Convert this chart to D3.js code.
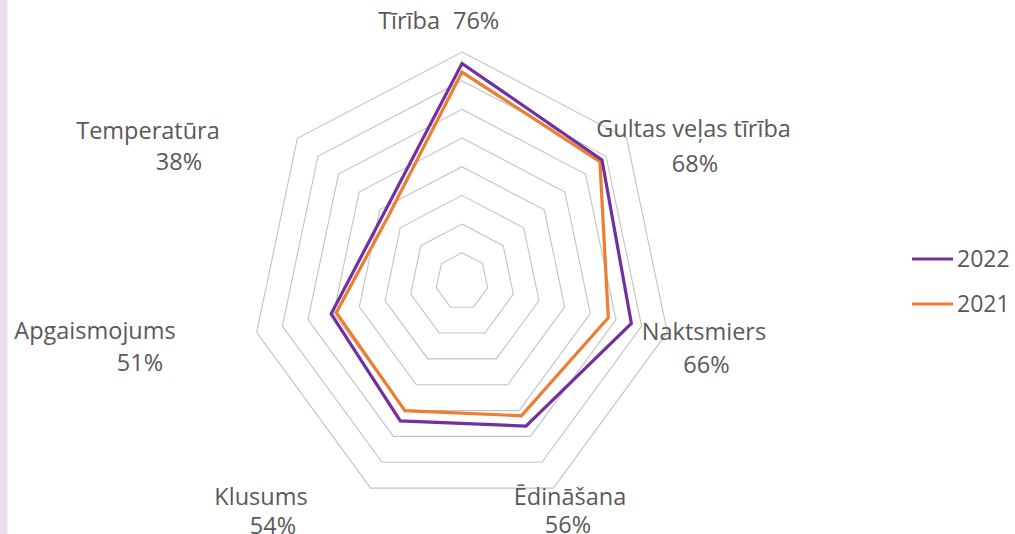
<!DOCTYPE html>
<html>
<head>
<meta charset="utf-8">
<script src="https://cdn.jsdelivr.net/npm/d3@7"></script>
<style>
  html, body { margin: 0; padding: 0; background: #ffffff; }
  svg { display: block; }
  text { font-family: "Open Sans", sans-serif; fill: #595959; }
</style>
</head>
<body>
<div id="chart"></div>
<script>
// Datos
const categories = ["Tīrība", "Gultas veļas tīrība", "Naktsmiers", "Ēdināšana", "Klusums", "Apgaismojums", "Temperatūra"];
const values2022 = [0.76, 0.68, 0.66, 0.56, 0.54, 0.51, 0.38];
const values2021 = [0.73, 0.67, 0.57, 0.52, 0.50, 0.49, 0.36];
const seriesNames = ["2022", "2021"];
const gridTicks = [0.1, 0.2, 0.3, 0.4, 0.5, 0.6, 0.7, 0.8];

// Configuración
const width = 1015, height = 534;
const cx = 462, cy = 281.4;
const colors = {"2022": "#7030a0", "2021": "#ed7d31"};

// el dibujo original está algo comprimido en horizontal
const rX = d3.scaleLinear().domain([0, 0.8]).range([0, 210.6]);
const rY = d3.scaleLinear().domain([0, 0.8]).range([0, 229.4]);
const angle = d3.scaleLinear().domain([0, categories.length]).range([0, 2 * Math.PI]);

function pt(i, v) {
  const a = angle(i);
  return [cx + Math.sin(a) * rX(v), cy - Math.cos(a) * rY(v)];
}

const svg = d3.select("#chart")
  .append("svg")
  .attr("width", width)
  .attr("height", height);

// franja lateral
svg.append("rect")
  .attr("x", 0).attr("y", 0)
  .attr("width", 7.5).attr("height", height)
  .attr("fill", "#ebdfef");

const line = d3.line().curve(d3.curveLinearClosed);

// rejilla
svg.append("g").selectAll("path")
  .data(gridTicks)
  .enter().append("path")
  .attr("d", t => line(categories.map((c, i) => pt(i, t))))
  .attr("fill", "none")
  .attr("stroke", "#c3c3c3")
  .attr("stroke-width", 1.1);

// series
const series = [
  {name: seriesNames[1], values: values2021},
  {name: seriesNames[0], values: values2022}
];
svg.append("g").selectAll("path")
  .data(series)
  .enter().append("path")
  .attr("d", s => line(s.values.map((v, i) => pt(i, v))))
  .attr("fill", "none")
  .attr("stroke", s => colors[s.name])
  .attr("stroke-width", 3.2)
  .attr("stroke-linejoin", "miter");

// etiquetas (nombre + valor 2022)
const fmt = d3.format(".0%");
const labelPos = [
  {nx: 440, ny: 29, nAnchor: "end", vx: 453, vy: 29, vAnchor: "start"},
  {nx: 693.5, ny: 137, vx: 695, vy: 172},
  {nx: 704, ny: 340, vx: 706.5, vy: 373},
  {nx: 570, ny: 505, vx: 568, vy: 533},
  {nx: 261, ny: 505, vx: 273, vy: 534},
  {nx: 95, ny: 339, vx: 140, vy: 371},
  {nx: 148, ny: 139, vx: 179, vy: 170}
];
const lab = svg.append("g").attr("font-size", "23.5px");
categories.forEach((c, i) => {
  const p = labelPos[i];
  lab.append("text")
    .attr("x", p.nx).attr("y", p.ny)
    .attr("text-anchor", p.nAnchor || "middle")
    .text(c);
  lab.append("text")
    .attr("x", p.vx).attr("y", p.vy)
    .attr("text-anchor", p.vAnchor || "middle")
    .text(fmt(values2022[i]));
});

// leyenda
const legend = svg.append("g").selectAll("g")
  .data(seriesNames)
  .enter().append("g")
  .attr("transform", (d, i) => `translate(912,${259 + i * 45})`);
legend.append("line")
  .attr("x1", 0).attr("x2", 41)
  .attr("stroke", d => colors[d])
  .attr("stroke-width", 3.2);
legend.append("text")
  .attr("x", 45).attr("y", 8)
  .attr("font-size", "23px")
  .text(d => d);
</script>
</body>
</html>
